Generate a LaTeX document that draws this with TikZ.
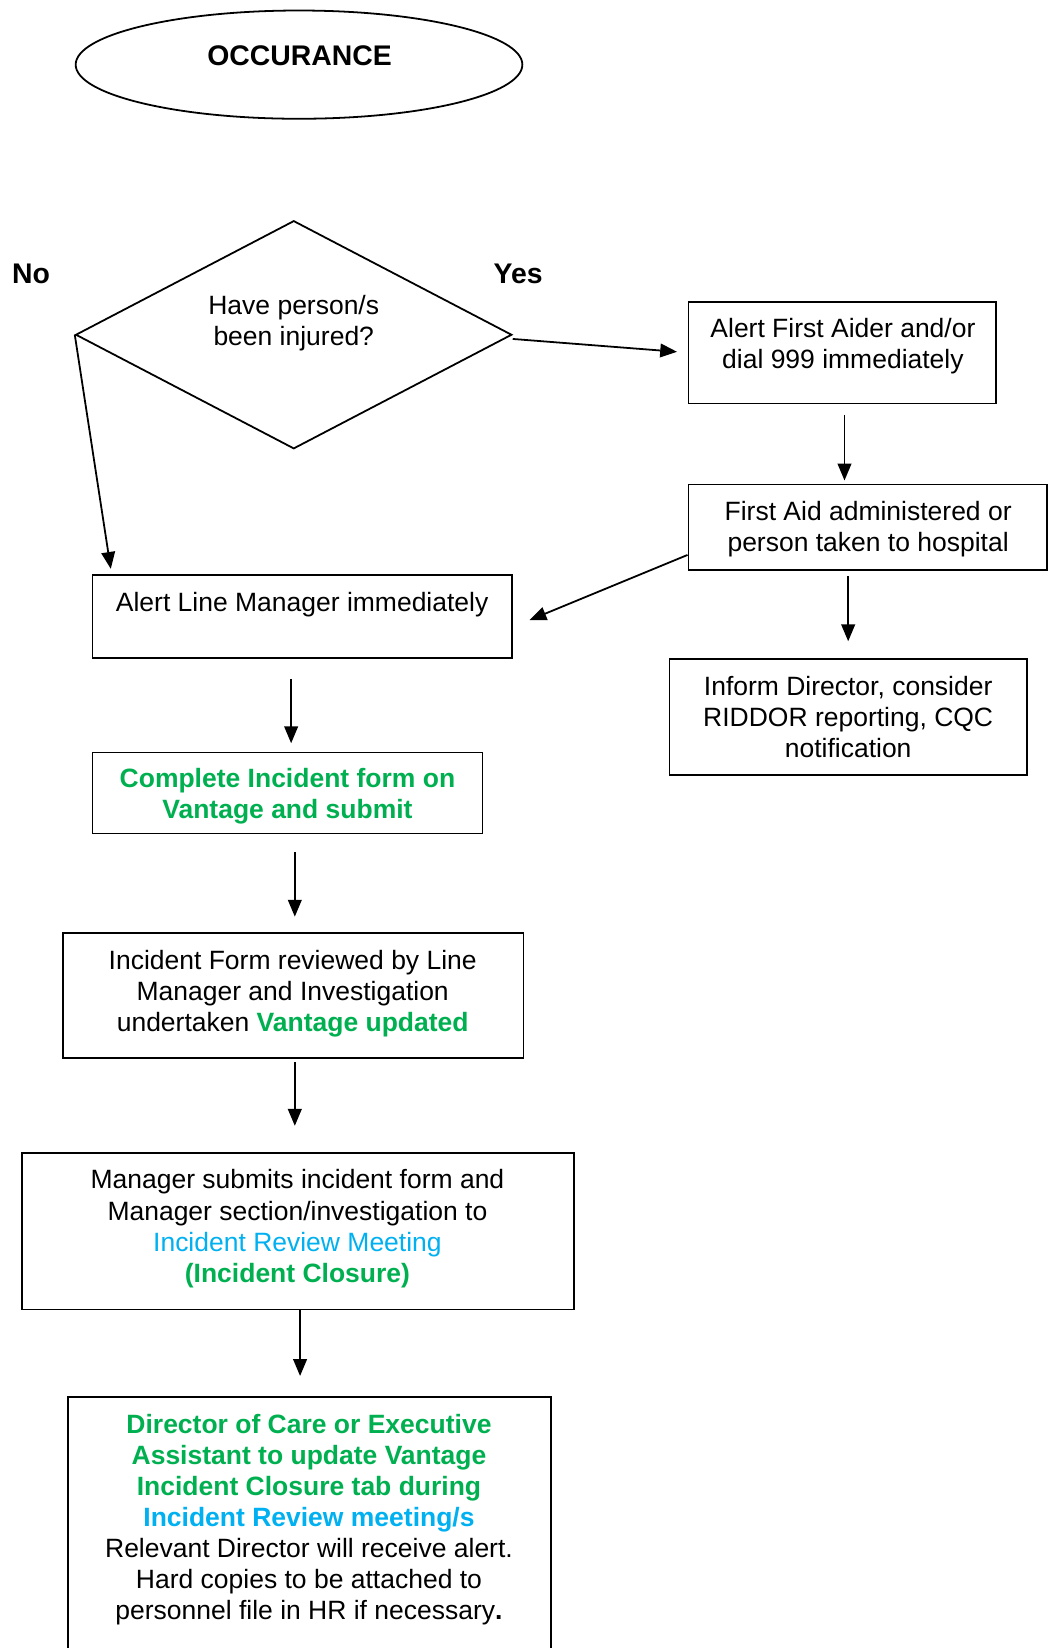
\documentclass[tikz,border=0pt]{standalone}
\usepackage{fontspec}
\setmainfont{Liberation Sans}
\usetikzlibrary{shapes.geometric,arrows.meta,calc}
\definecolor{vgreen}{HTML}{00B050}
\definecolor{vblue}{HTML}{00B0F0}
\begin{document}
\begin{tikzpicture}[x=1pt,y=-1pt,
  box/.style={draw,line width=1.7pt,inner sep=0pt},
  txt/.style={align=center,inner sep=0pt,font=\fontsize{25.2}{29.5}\selectfont},
  gtxt/.style={txt,text=vgreen,font=\fontsize{25.2}{29.5}\selectfont\bfseries},
  lbl/.style={inner sep=0pt,font=\fontsize{27}{30}\selectfont\bfseries},
  arr/.style={line width=1.7pt,-{Triangle[length=16pt,width=13pt]}}]
\useasboundingbox (0,0) rectangle (997,1568);
% 开始
\node[box,ellipse,minimum width=425pt,minimum height=103pt] (occ) at (284.5,61.5) {};
\node[lbl] (occtxt) at (285,53) {OCCURANCE};
% 判断
\node[box,diamond,minimum width=415pt,minimum height=217pt] (dia) at (279.5,318.5) {};
\node[txt] (diatxt) at (279.5,307) {Have person/s\\been injured?};
\node[lbl] (no) at (29.5,261) {No};
\node[lbl] (yes) at (493,261) {Yes};
% 右侧
\node[box,minimum width=293pt,minimum height=97pt] (aider) at (801.5,335.5) {};
\node[txt] (aidertxt) at (802,329.5) {Alert First Aider and/or\\dial 999 immediately};
\node[box,minimum width=341pt,minimum height=81pt] (firstaid) at (825.5,501.5) {};
\node[txt] (firstaidtxt) at (826,503.5) {First Aid administered or\\person taken to hospital};
\node[box,minimum width=340pt,minimum height=110pt] (inform) at (807,682) {};
\node[txt] (informtxt) at (807,682) {Inform Director, consider\\RIDDOR reporting, CQC\\notification};
% 左侧
\node[box,minimum width=399pt,minimum height=79pt] (manager) at (287.5,586.5) {};
\node[txt] (managertxt) at (287.5,575) {Alert Line Manager immediately};
\node[box,minimum width=371pt,minimum height=77pt] (complete) at (273.5,754.5) {};
\node[gtxt] (completetxt) at (273.5,758) {Complete Incident form on\\Vantage and submit};
% 下方
\node[box,minimum width=438pt,minimum height=119pt] (review) at (279,947.5) {};
\node[txt] (reviewtxt) at (278.5,945) {Incident Form reviewed by Line\\Manager and Investigation\\undertaken \textcolor{vgreen}{\bfseries Vantage updated}};
\node[box,minimum width=525pt,minimum height=149pt] (submit) at (283.5,1171.5) {};
\node[txt] (submittxt) at (283,1169) {Manager submits incident form and\\Manager section/investigation to\\\textcolor{vblue}{Incident Review Meeting}\\\textcolor{vgreen}{\bfseries (Incident Closure)}};
\node[box,minimum width=459pt,minimum height=271pt] (closure) at (294.5,1464.5) {};
\node[txt] (closuretxt) at (294,1445.5) {\textcolor{vgreen}{\bfseries Director of Care or Executive}\\\textcolor{vgreen}{\bfseries Assistant to update Vantage}\\\textcolor{vgreen}{\bfseries Incident Closure tab during}\\\textcolor{vblue}{\bfseries Incident Review meeting/s}\\Relevant Director will receive alert.\\Hard copies to be attached to\\personnel file in HR if necessary{\bfseries .}};
% 箭头
\draw[arr,shorten >=10pt] ($(dia.east)+(0,4)$) -- (aider.west);
\draw[arr,shorten <=10pt,shorten >=3pt] ($(aider.south)+(2,0)$) -- ($(aider.south |- firstaid.north)+(2,0)$);
\draw[arr,shorten <=5pt,shorten >=16pt] (inform.north |- firstaid.south) -- (inform.north);
\draw[arr] ($(firstaid.west)+(0,26.5)$) -- ($(manager.east)+(16,3.5)$);
\draw[arr,shorten >=5pt] (dia.west) -- ($(manager.north west)+(19,0)$);
\draw[arr,shorten <=19pt,shorten >=8pt] ($(complete.north |- manager.south)+(3.5,0)$) -- ($(complete.north)+(3.5,0)$);
\draw[arr,shorten <=17pt,shorten >=15pt] ($(review.north |- complete.south)+(1.5,0)$) -- ($(review.north)+(1.5,0)$);
\draw[arr,shorten <=3pt,shorten >=25pt] ($(review.south)+(1.5,0)$) -- ($(review.south |- submit.north)+(1.5,0)$);
\draw[arr,shorten >=19pt] ($(submit.south)+(2,0)$) -- ($(submit.south |- closure.north)+(2,0)$);
\end{tikzpicture}
\end{document}
